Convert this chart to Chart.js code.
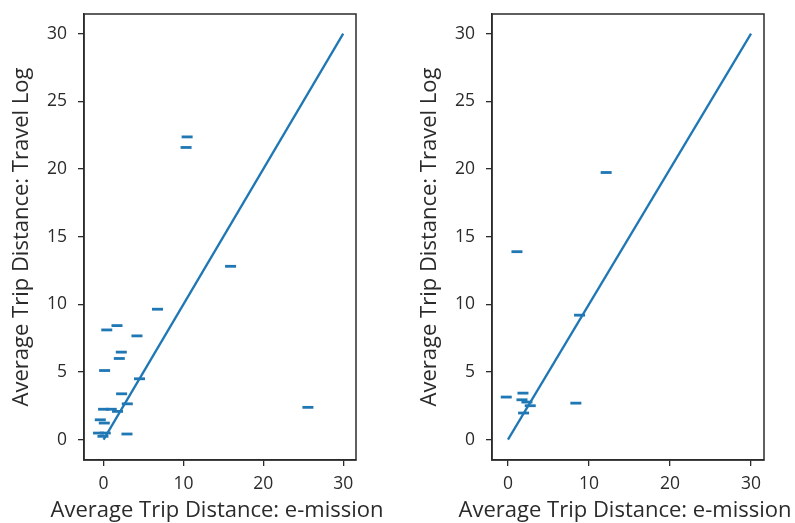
<!DOCTYPE html>
<html>
<head>
<meta charset="utf-8">
<script src="https://cdn.jsdelivr.net/npm/chart.js@4.4.1/dist/chart.umd.min.js"></script>
<style>
  html, body { margin: 0; padding: 0; background: #fff; }
  #wrap { position: relative; width: 795px; height: 523px; overflow: hidden; }
  canvas { position: absolute; top: 0; }
  #c1 { left: 0; }
  #c2 { left: 400px; }
</style>
</head>
<body>
<div id="wrap">
  <canvas id="c1" width="400" height="523"></canvas>
  <canvas id="c2" width="395" height="523"></canvas>
</div>
<script>
// Per-user average trip distance (km): e-mission estimate vs. travel log
const leftEmission = [10.46, 10.33, 15.9, 6.75, 0.4, 1.68, 4.18, 2.22, 1.97, 0.13, 4.5, 25.58,
  2.26, 2.97, 0.0, 0.96, 1.75, -0.41, 0.09, -0.63, 0.21, -0.08, 2.93];
const leftTravelLog = [22.37, 21.59, 12.81, 9.64, 8.11, 8.43, 7.67, 6.47, 6.0, 5.11, 4.5, 2.39,
  3.39, 2.65, 2.25, 2.25, 2.09, 1.47, 1.23, 0.49, 0.49, 0.25, 0.42];

const rightEmission = [12.12, 1.11, 8.84, 8.38, -0.21, 1.85, 1.73, 2.34, 2.75, 1.93];
const rightTravelLog = [19.74, 13.89, 9.2, 2.7, 3.15, 3.44, 2.95, 2.78, 2.51, 1.97];

// Reference line y = x
const identityX = [0, 30];
const identityY = [0, 30];

const xTicks = [0, 10, 20, 30];
const yTicks = [0, 5, 10, 15, 20, 25, 30];

const xTitle = 'Average Trip Distance: e-mission';
const yTitle = 'Average Trip Distance: Travel Log';

const BLUE = '#1f77b4';
const INK = '#2b2b2b';
const FONT = 'Open Sans';
const TITLE_SIZE = 22;
const TICK_SIZE = 17.5;

const toPoints = (xs, ys) => xs.map((x, i) => ({ x: x, y: ys[i] }));

// Draws the full axes frame around the plotting area
const framePlugin = {
  id: 'frame',
  afterDraw(chart) {
    const { ctx, chartArea: a } = chart;
    ctx.save();
    ctx.strokeStyle = INK;
    ctx.lineWidth = 1.5;
    ctx.strokeRect(a.left, a.top, a.right - a.left, a.bottom - a.top);
    ctx.restore();
  }
};

// x-axis title, allowed to run wider than the axes box
const xTitlePlugin = {
  id: 'xTitle',
  afterDraw(chart, args, opts) {
    const { ctx, chartArea: a } = chart;
    ctx.save();
    ctx.fillStyle = INK;
    ctx.font = TITLE_SIZE + 'px "' + FONT + '"';
    ctx.textAlign = 'center';
    ctx.textBaseline = 'middle';
    ctx.fillText(opts.text, (a.left + a.right) / 2 + (opts.shift || 0), opts.y);
    ctx.restore();
  }
};

function makeChart(id, xs, ys, opts) {
  return new Chart(document.getElementById(id), {
    type: 'scatter',
    data: {
      datasets: [
        {
          data: toPoints(xs, ys),
          pointStyle: 'line',
          pointRadius: 5.5,
          pointHoverRadius: 5.5,
          borderWidth: 2.8,
          borderColor: BLUE,
          backgroundColor: BLUE
        },
        {
          type: 'line',
          data: toPoints(identityX, identityY),
          borderColor: BLUE,
          borderWidth: 2.3,
          pointRadius: 0,
          fill: false
        }
      ]
    },
    options: {
      responsive: false,
      animation: false,
      devicePixelRatio: 1,
      events: [],
      layout: { padding: { top: 14, right: opts.padRight, left: 0, bottom: 0 } },
      plugins: {
        legend: { display: false },
        tooltip: { enabled: false },
        xTitle: { text: xTitle, y: 511, shift: -3 }
      },
      scales: {
        x: {
          type: 'linear',
          min: opts.xMin,
          max: 31.6,
          afterBuildTicks: s => { s.ticks = xTicks.map(v => ({ value: v })); },
          afterFit: s => { s.height = 63; s.paddingLeft = 0; s.paddingRight = 0; },
          grid: { display: true, drawOnChartArea: false, drawTicks: true, tickLength: 6, color: INK, lineWidth: 1.3 },
          border: { display: true, color: INK, width: 1.5 },
          ticks: { color: INK, font: { family: FONT, size: TICK_SIZE }, padding: 8, maxRotation: 0 },
          title: { display: false }
        },
        y: {
          type: 'linear',
          min: -1.5,
          max: 31.45,
          afterBuildTicks: s => { s.ticks = yTicks.map(v => ({ value: v })); },
          afterFit: s => { s.width = opts.yWidth; s.paddingTop = 0; s.paddingBottom = 0; },
          grid: { display: true, drawOnChartArea: false, drawTicks: true, tickLength: 6, color: INK, lineWidth: 1.3 },
          border: { display: true, color: INK, width: 1.5 },
          ticks: { color: INK, font: { family: FONT, size: TICK_SIZE }, padding: 11 },
          title: { display: true, text: yTitle, color: INK, font: { family: FONT, size: TITLE_SIZE, lineHeight: 1.2 }, padding: { top: opts.titlePad, bottom: 0 } }
        }
      }
    },
    plugins: [framePlugin, xTitlePlugin]
  });
}

makeChart('c1', leftEmission, leftTravelLog, { xMin: -2.45, padRight: 44, yWidth: 84, titlePad: 9 });
makeChart('c2', rightEmission, rightTravelLog, { xMin: -1.97, padRight: 31, yWidth: 92, titlePad: 17 });
</script>
</body>
</html>
